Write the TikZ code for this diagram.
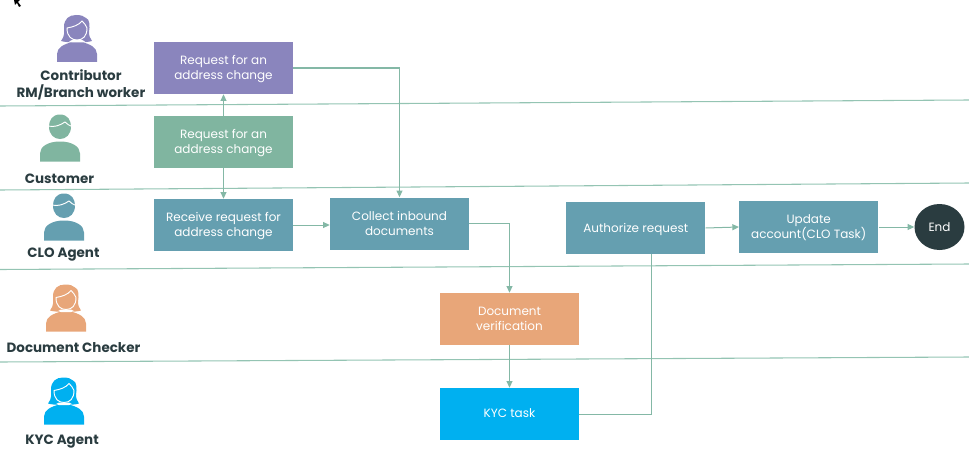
\documentclass[tikz,border=0pt]{standalone}
\usepackage{fontspec}
\setmainfont{Poppins}
\usetikzlibrary{arrows.meta,calc,shapes.geometric}
\definecolor{lanec}{HTML}{94C4B3}
\definecolor{conc}{HTML}{84B8A6}
\definecolor{purp}{HTML}{8A85BD}
\definecolor{sage}{HTML}{80B5A0}
\definecolor{teal}{HTML}{659FB0}
\definecolor{peach}{HTML}{E8A679}
\definecolor{sky}{HTML}{00B0F0}
\definecolor{darkc}{HTML}{2A3C40}
\newcommand{\lowtext}[2][0pt]{\raisebox{-#1}[\height][\depth]{\begin{tabular}{@{}c@{}}#2\end{tabular}}}
\tikzset{
  x=0.75pt,y=-0.75pt,
  flowbox/.style={draw=none,fill=#1,minimum width=104.25pt,minimum height=39pt,inner sep=0pt,text=white,font=\fontsize{9}{11.25}\selectfont},
  who/.style={text=darkc,align=center,inner sep=0pt,font=\fontsize{10.1}{12.8}\selectfont\bfseries},
  lane/.style={draw=lanec,line width=0.8pt},
  link/.style={draw=conc,line width=0.75pt,-{Triangle[length=5pt,width=4.5pt]}},
  linkplain/.style={draw=conc,line width=0.75pt},
}
% female figure: #1,#2 centre x / bottom y, #3 colour
\newcommand{\womanicon}[3]{
  \begin{scope}[shift={(#1,#2)}]
    \fill[#3] (-20,0) -- (-20,-8) .. controls (-20,-15) and (-12,-18) .. (-5,-20) -- (5,-20) .. controls (12,-18) and (20,-15) .. (20,-8) -- (20,0) -- cycle;
    \fill[#3] (-16,-21) .. controls (-12,-26) and (-13,-30) .. (-13,-35) .. controls (-13,-43) and (-8,-47) .. (-1,-47) .. controls (4,-47) and (7,-46) .. (9,-44) .. controls (13,-43) and (13,-35) .. (12,-30) .. controls (12,-26) and (13,-24) .. (15,-21) .. controls (9,-19) and (-10,-19) .. (-16,-21) -- cycle;
    \fill[white] (-8,-20.5) -- (-5,-22) -- (5,-22) -- (8,-20.5) -- (5,-19.5) -- (-5,-19.5) -- cycle;
    \draw[white,line width=0.7pt,fill=#3] (-10,-34) .. controls (-10,-25) and (-5,-22) .. (0,-22) .. controls (6,-22) and (10,-26) .. (10,-34) .. controls (9,-37) and (7,-39) .. (5,-41) .. controls (2,-37) and (-4,-35) .. (-10,-34) -- cycle;
  \end{scope}
}
% male figure
\newcommand{\manicon}[3]{
  \begin{scope}[shift={(#1,#2)}]
    \fill[#3] (-20,0) -- (-20,-8) .. controls (-20,-15) and (-12,-20) .. (0,-20) .. controls (12,-20) and (20,-15) .. (20,-8) -- (20,0) -- cycle;
    \fill[#3] (0,-47) .. controls (-8,-47) and (-11,-41) .. (-11,-35) .. controls (-11,-27) and (-6,-22.5) .. (0,-22.5) .. controls (6,-22.5) and (11,-27) .. (11,-35) .. controls (11,-41) and (8,-47) .. (0,-47) -- cycle;
    \draw[white,line width=0.7pt] (-12,-35.5) .. controls (-6,-34) and (0,-36) .. (5,-39.5) .. controls (7,-37.5) and (9,-36) .. (12,-35);
  \end{scope}
}
\begin{document}
\begin{tikzpicture}
\useasboundingbox (0,0) rectangle (969,467);
% cursor
\fill[black] (14,0) -- (20,0) -- (18,2) -- (21,6) -- (19,7) -- (17,3) -- (15,5) -- cycle;
% lanes
\draw[lane] (0,106) -- (969,100);
\draw[lane] (0,190) -- (969,183);
\draw[lane] (0,269.5) -- (969,264);
\draw[lane] (0,362) -- (969,357);
% figures
\womanicon{77}{62}{purp}
\manicon{60}{161.5}{sage}
\manicon{64}{240.5}{teal}
\womanicon{66}{331.5}{peach}
\womanicon{64}{424.5}{sky}
% role labels
\node[who] (lcon) at (81,84.5) {Contributor\\RM/Branch worker};
\node[who] (lcus) at (59.5,178.5) {Customer};
\node[who] (lclo) at (63.5,255) {CLO Agent};
\node[who] (ldoc) at (73.5,347.5) {Document Checker};
\node[who] (lkyc) at (62,442) {KYC Agent};
% boxes
\node[flowbox=purp] (req1) at (223.5,68) {\lowtext[0.75pt]{Request for an\\address change}};
\node[flowbox=sage] (req2) at (223.5,142) {\lowtext[0.75pt]{Request for an\\address change}};
\node[flowbox=teal] (recv) at (223.5,225) {\lowtext[0.75pt]{Receive request for\\address change}};
\node[flowbox=teal] (coll) at (399.5,223.5) {\lowtext[0.75pt]{Collect inbound\\documents}};
\node[flowbox=teal] (auth) at (635.75,228) {\lowtext[0.75pt]{Authorize request}};
\node[flowbox=teal] (upd) at (808.75,227) {\lowtext[0.75pt]{Update\\account(CLO Task)}};
\node[flowbox=peach] (dver) at (509.5,319) {\lowtext[0.75pt]{Document\\verification}};
\node[flowbox=sky] (kyc) at (509.5,414) {\lowtext[0pt]{KYC task}};
\node[ellipse,fill=darkc,text=white,minimum width=37.5pt,minimum height=34.5pt,inner sep=0pt,font=\fontsize{9}{11.25}\selectfont] (endn) at (939.5,227) {End};
% connectors
\draw[link] (req2.north) -- (req1.south);
\draw[link] (req2.south) -- (recv.north);
\draw[link] (recv.east) -- (coll.west |- recv.east);
\draw[link] (req1.east) -| (coll.north);
\draw[link] (coll.east) -| (dver.north);
\draw[link] (dver.south) -- (kyc.north);
\draw[linkplain] (kyc.east) -| ($(auth.south)+(15.5,0)$);
\draw[link] (auth.east) -- (upd.west);
\draw[link] (upd.east) -- (endn.west);
\end{tikzpicture}
\end{document}
